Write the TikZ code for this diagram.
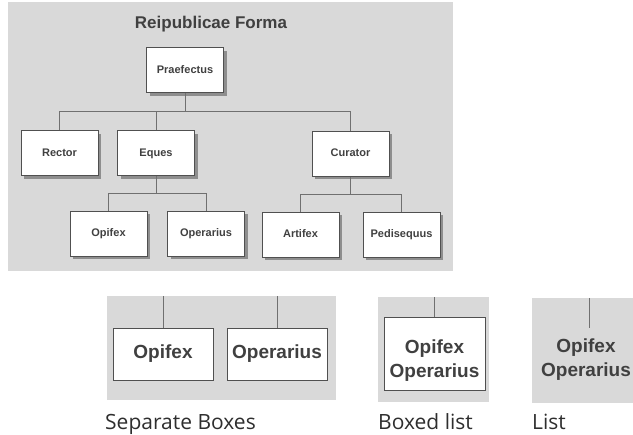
\documentclass[tikz,border=0pt]{standalone}
\usepackage{fontspec}
\setmainfont{Liberation Sans}
\newfontfamily\captionfont{Open Sans}
\usetikzlibrary{positioning,shadows}
\definecolor{panelgray}{HTML}{D9D9D9}
\definecolor{ink}{HTML}{404040}
\definecolor{capink}{HTML}{2E2E2E}
\definecolor{boxline}{HTML}{505050}
\definecolor{wire}{HTML}{707070}
\definecolor{shade}{HTML}{8E8E8E}

\begin{document}
\begin{tikzpicture}[x=1pt,y=-1pt,
  unit/.style={draw=boxline, line width=1pt, fill=white, minimum width=77pt, minimum height=45pt,
    font=\bfseries\fontsize{11}{13}\selectfont, text=ink, text height=8pt, text depth=2.3pt,
    drop shadow={shadow xshift=3pt, shadow yshift=-3pt, fill=shade, opacity=1}},
  bigunit/.style={draw=boxline, line width=0.9pt, fill=white, minimum width=100pt, minimum height=52pt,
    font=\bfseries\fontsize{19}{24}\selectfont, text=ink},
  link/.style={draw=wire, line width=0.8pt},
  caption/.style={anchor=base west, inner sep=0pt, font=\captionfont\fontsize{21}{24}\selectfont, text=capink}]
  \useasboundingbox (0,0) rectangle (633,435);

  % organisation chart
  \fill[panelgray] (8,2) rectangle (453,271);
  \node (title) [anchor=base, text=ink, font=\bfseries\fontsize{17}{20}\selectfont] at (211,29) {Reipublicae Forma};
  \node (praef) [unit] at (185,70.5) {Praefectus};
  \node (rector) [unit] at (59.5,153.5) {Rector};
  \node (eques) [unit] at (156,153.5) {Eques};
  \node (curator) [unit] at (350.5,154) {Curator};
  \node (opifex) [unit] at (108.5,234) {Opifex};
  \node (operarius) [unit] at (206,234) {Operarius};
  \node (artifex) [unit] at (300.5,235) {Artifex};
  \node (pedisequus) [unit] at (401.5,235) {Pedisequus};

  \coordinate (top bus) at (185,111);
  \coordinate (eques bus) at (156,193);
  \coordinate (curator bus) at (350.5,194);
  \draw[link] (praef) -- (top bus);
  \foreach \n in {rector,eques,curator}
    \draw[link] (\n.north) |- (top bus);
  \draw[link] (eques) -- (eques bus);
  \draw[link] (opifex.north) |- (eques bus);
  \draw[link] (operarius.north) |- (eques bus);
  \draw[link] (curator) -- (curator bus);
  \draw[link] (artifex.north) |- (curator bus);
  \draw[link] (pedisequus.north) |- (curator bus);

  % separate boxes
  \fill[panelgray] (107,296) rectangle (336,400);
  \coordinate (sep top) at (0,296);
  \node (sep opifex) [bigunit, text height=14pt, text depth=4pt] at (163,354) {Opifex};
  \node (sep operarius) [bigunit, text height=14pt, text depth=4pt] at (277,354) {Operarius};
  \draw[link] (sep opifex.north) -- (sep opifex.north |- sep top);
  \draw[link] (sep operarius.north) -- (sep operarius.north |- sep top);
  \node (sep caption) [caption] at (105,430) {Separate Boxes};

  % boxed list
  \fill[panelgray] (378,297) rectangle (489,402);
  \coordinate (boxed top) at (0,297);
  \node (boxed) [bigunit, align=center, minimum width=101pt, minimum height=73pt] at (434.5,353.5)
    {\rule{0pt}{27pt}Opifex\\Operarius};
  \draw[link] (boxed.north) -- (boxed.north |- boxed top);
  \node (boxed caption) [caption] at (378,430) {Boxed list};

  % plain list
  \fill[panelgray] (532,298) rectangle (633,403);
  \coordinate (list top) at (589,298);
  \coordinate (list end) at (589,328);
  \node (plain) [align=center, inner sep=0pt, text=ink, font=\bfseries\fontsize{19}{24}\selectfont] at (586,360)
    {Opifex\\Operarius};
  \draw[link] (list top) -- (list end);
  \node (list caption) [caption] at (532,430) {List};
\end{tikzpicture}
\end{document}
